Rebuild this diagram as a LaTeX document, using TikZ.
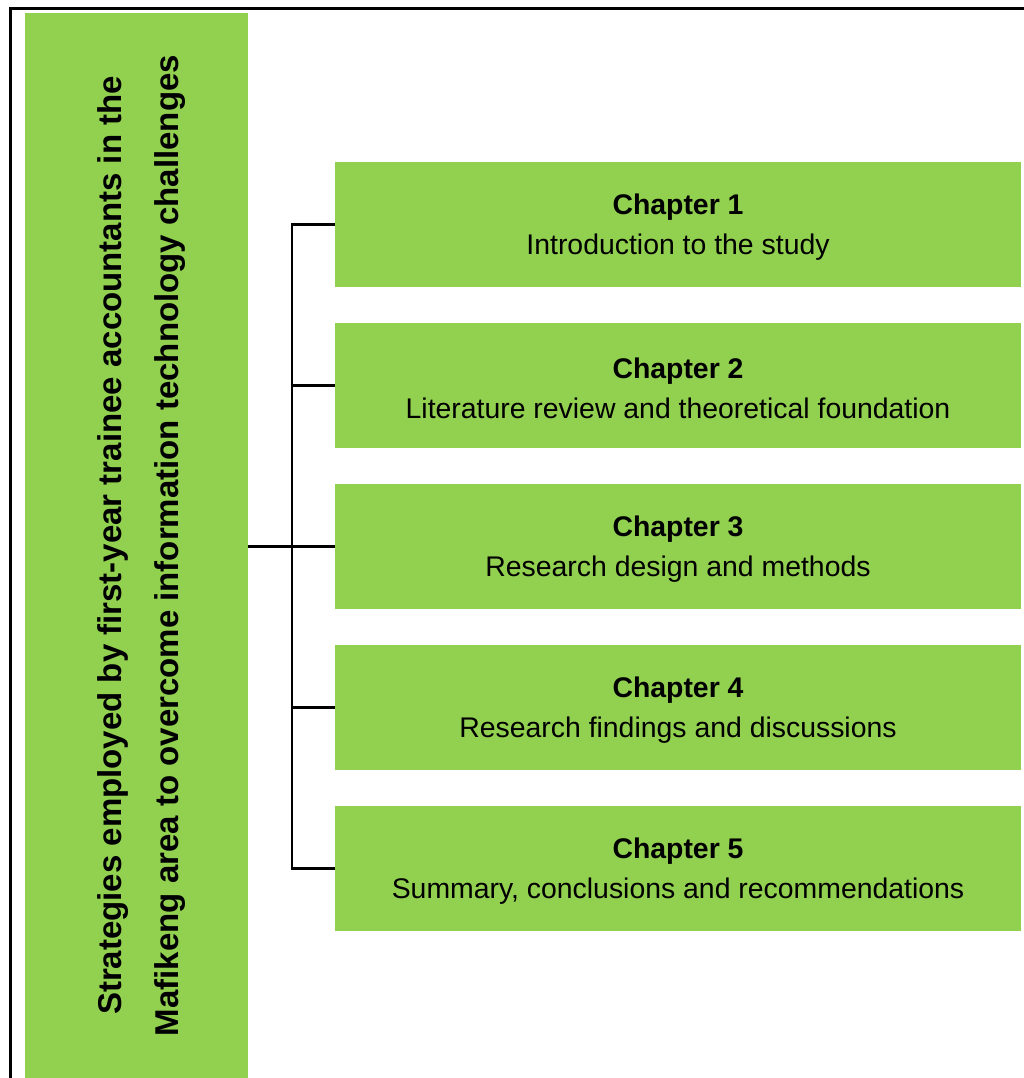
\documentclass[tikz,border=0pt]{standalone}
\usepackage{fontspec}
\setmainfont{Liberation Sans}
\definecolor{leafgreen}{RGB}{146,208,80}
% taller first line pushes each chapter caption slightly lower in its box
\newcommand\chaptop{\rule{0pt}{26pt}}
\begin{document}
\begin{tikzpicture}[x=1pt,y=-1pt,
  topicbox/.style={fill=leafgreen, draw=none, inner sep=0pt,
    minimum width=223pt, minimum height=1065pt},
  topictext/.style={rotate=90, align=center, inner sep=0pt,
    font=\bfseries\fontsize{33}{57}\selectfont},
  chapterbox/.style={fill=leafgreen, draw=none, inner sep=0pt,
    minimum width=686pt, minimum height=125pt, align=center,
    font=\fontsize{28.4}{40}\selectfont},
  bracket/.style={line width=2.2pt, black},
  frame/.style={line width=3pt, black}]
\useasboundingbox (0,0) rectangle (1023,1078);

% outer frame (runs off the page to the right and bottom)
\draw[frame] (10,1100) -- (10,9) -- (1040,9);

% topic column
\node[topicbox] (topic) at (136.5,545.5) {};
\node[topictext] (topictitle) at (142,545.5)
  {Strategies employed by first-year trainee accountants in the\\
   Mafikeng area to overcome information technology challenges};

% chapter boxes
\node[chapterbox] (c1) at (678,224.5) {\chaptop\textbf{Chapter 1}\\Introduction to the study};
\node[chapterbox] (c2) at (678,385.5) {\chaptop\textbf{Chapter 2}\\Literature review and theoretical foundation};
\node[chapterbox] (c3) at (678,546.5) {\chaptop\textbf{Chapter 3}\\Research design and methods};
\node[chapterbox] (c4) at (678,707.5) {\chaptop\textbf{Chapter 4}\\Research findings and discussions};
\node[chapterbox] (c5) at (678,868.5) {\chaptop\textbf{Chapter 5}\\Summary, conclusions and recommendations};

% bracket joining the topic to the chapters
\draw[bracket] (c1.west) -- ++(-43,0) coordinate (spinetop) |- (c5.west);
\foreach \i in {2,3,4}
  \draw[bracket] (c\i.west) -- (spinetop |- c\i.west);
\draw[bracket] (topic.east |- c3.west) -- (c3.west);
\end{tikzpicture}
\end{document}
